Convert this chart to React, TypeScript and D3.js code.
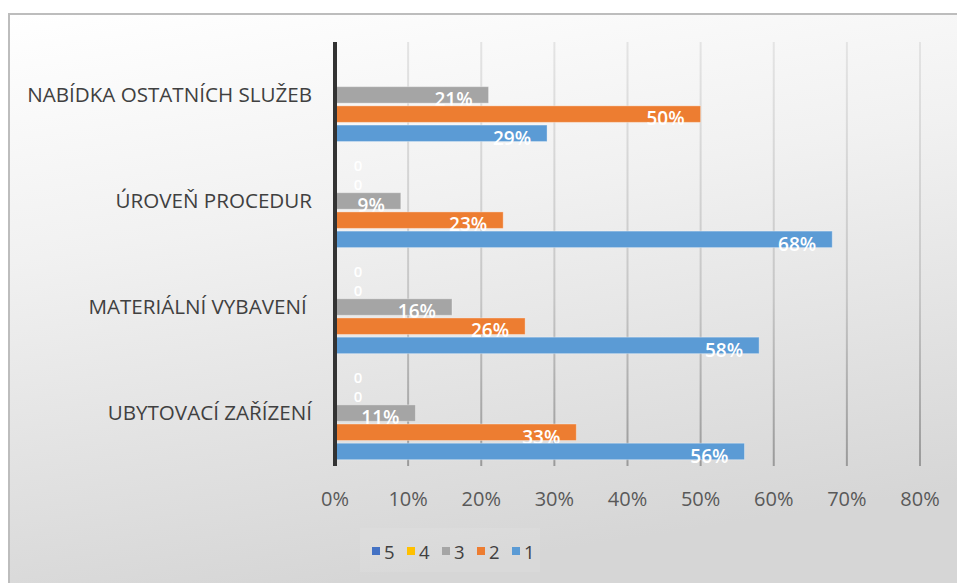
import * as d3 from 'd3';

const categories = [
  'NABÍDKA OSTATNÍCH SLUŽEB',
  'ÚROVEŇ PROCEDUR',
  'MATERIÁLNÍ VYBAVENÍ ',
  'UBYTOVACÍ ZAŘÍZENÍ',
];
const seriesNames = ['5', '4', '3', '2', '1'];
const values5 = [null, 0, 0, 0];
const values4 = [null, 0, 0, 0];
const values3 = [0.21, 0.09, 0.16, 0.11];
const values2 = [0.5, 0.23, 0.26, 0.33];
const values1 = [0.29, 0.68, 0.58, 0.56];
const seriesValues: (number | null)[][] = [values5, values4, values3, values2, values1];
const seriesColors = ['#4472C4', '#FFC000', '#A5A5A5', '#ED7D31', '#5B9BD5'];
const xTicks = [0, 0.1, 0.2, 0.3, 0.4, 0.5, 0.6, 0.7, 0.8];

const W = 957;
const H = 583;
const FONT = '"Open Sans", "Noto Sans", sans-serif';

export default function App() {
  const x = d3.scaleLinear().domain([0, 0.8]).range([335, 920]);
  const y = d3.scaleBand<string>().domain(categories).range([42, 466])
    .paddingInner(0.07).paddingOuter(0.034);
  const ySub = d3.scaleBand<string>().domain(seriesNames).range([0, y.bandwidth()])
    .paddingInner(0.14).paddingOuter(0.14);
  const pct = d3.format('.0%');

  return (
    <svg width={W} height={H} style={{ position: 'absolute', left: 0, top: 0 }}>
      <defs>
        <linearGradient id="bg" x1="0" y1="0" x2="0.25" y2="1">
          <stop offset="0" stopColor="#ffffff" />
          <stop offset="0.4" stopColor="#f1f1f1" />
          <stop offset="1" stopColor="#d6d6d6" />
        </linearGradient>
        <linearGradient id="grid" gradientUnits="userSpaceOnUse" x1="0" y1="42" x2="0" y2="466">
          <stop offset="0" stopColor="#e4e4e4" />
          <stop offset="0.6" stopColor="#c6c6c6" />
          <stop offset="1" stopColor="#9a9a9a" />
        </linearGradient>
      </defs>
      <rect x={0} y={0} width={W} height={H} fill="#ffffff" />
      <rect x={9} y={14} width={W} height={H} fill="url(#bg)" stroke="#bdbdbd" strokeWidth={2} />

      {/* gridlines */}
      {xTicks.slice(1).map(t => (
        <line key={t} x1={x(t)} x2={x(t)} y1={42} y2={466} stroke="url(#grid)" strokeWidth={2} />
      ))}

      {/* bars */}
      {categories.map((c, ci) => (
        <g key={c} transform={`translate(0,${y(c)})`}>
          {seriesNames.map((s, si) => {
            const v = seriesValues[si][ci];
            if (v === null) return null;
            const by = ySub(s) as number;
            const bh = ySub.bandwidth();
            return (
              <g key={s}>
                {v > 0 && (
                  <rect x={x(0)} y={by} width={x(v) - x(0)} height={bh}
                    fill={seriesColors[si]} stroke="rgba(255,255,255,0.35)" strokeWidth={1} />
                )}
                <text
                  x={v > 0 ? x(v) - 16 : x(0) + 23}
                  y={by + bh + (v > 0 ? 3 : 0)}
                  textAnchor={v > 0 ? 'end' : 'middle'}
                  fill="#ffffff"
                  fontFamily={FONT}
                  fontWeight={600}
                  fontSize={v > 0 ? 19 : 15}
                >
                  {v > 0 ? pct(v) : '0'}
                </text>
              </g>
            );
          })}
        </g>
      ))}

      {/* axis line */}
      <line x1={x(0)} x2={x(0)} y1={42} y2={466} stroke="#333333" strokeWidth={4} />

      {/* category labels */}
      {categories.map(c => (
        <text key={c} x={312} y={(y(c) as number) + y.bandwidth() / 2} dy="0.35em"
          textAnchor="end" fill="#404040" fontFamily={FONT} fontSize={20.6} style={{ whiteSpace: 'pre' }}>
          {c}
        </text>
      ))}

      {/* x tick labels */}
      {xTicks.map(t => (
        <text key={t} x={x(t)} y={506} textAnchor="middle" fill="#595959"
          fontFamily={FONT} fontSize={20}>
          {pct(t)}
        </text>
      ))}

      {/* legend */}
      <rect x={360} y={528} width={180} height={44} fill="#ffffff" opacity={0.08} />
      {seriesNames.map((s, i) => (
        <g key={s} transform={`translate(${372 + i * 35},0)`}>
          <rect x={0} y={547} width={8} height={8} fill={seriesColors[i]} />
          <text x={12} y={559} fill="#404040" fontFamily={FONT} fontSize={18.5}>{s}</text>
        </g>
      ))}
    </svg>
  );
}
